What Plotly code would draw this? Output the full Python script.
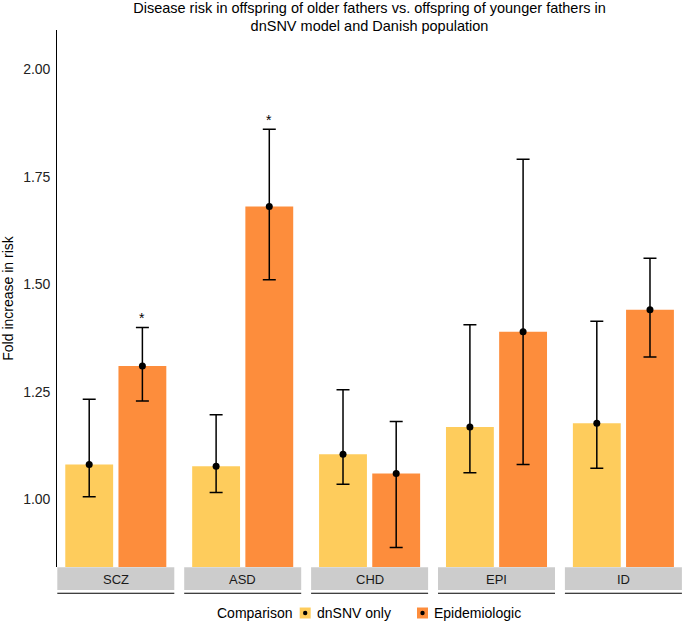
import plotly.graph_objects as go

# ---------------- data ----------------
diseases = ["SCZ", "ASD", "CHD", "EPI", "ID"]
comparisons = ["dnSNV only", "Epidemiologic"]

dnsnv_value = [1.081, 1.077, 1.105, 1.168, 1.177]
dnsnv_lower = [1.006, 1.016, 1.035, 1.062, 1.072]
dnsnv_upper = [1.233, 1.197, 1.255, 1.406, 1.414]

epi_value = [1.310, 1.681, 1.060, 1.390, 1.441]
epi_lower = [1.229, 1.511, 0.888, 1.081, 1.331]
epi_upper = [1.400, 1.861, 1.181, 1.791, 1.561]

epi_signif = ["*", "*", "", "", ""]

y_ticks = [1.00, 1.25, 1.50, 1.75, 2.00]

title_text = ("Disease risk in offspring of older fathers vs. offspring of younger fathers in"
              "<br>dnSNV model and Danish population")
y_title = "Fold increase in risk"
legend_title = "Comparison"

# ---------------- style ----------------
colors = {"dnSNV only": "#FECC5C", "Epidemiologic": "#FD8D3C"}
FONT = "Liberation Sans, Arial, Helvetica, sans-serif"
W, H = 682, 632
ML, MR, MT, MB = 57, 0, 30, 65
PW, PH = W - ML - MR, H - MT - MB


def px_x(px):
    return (px - ML) / PW


def px_y(py):
    return (H - MB - py) / PH


# y calibration (value 1.00 at pixel 499.3, 429.8 px per unit)
y_top = 1 + (499.3 - MT) / 429.8
y_bot = 1 - ((H - MB) - 499.3) / 429.8

panel_w = 117.0
panel_step = 126.9

fig = go.Figure()
shapes = []
annotations = []

for i, d in enumerate(diseases):
    ax = "x" if i == 0 else f"x{i+1}"
    vals = [dnsnv_value[i], epi_value[i]]
    lows = [dnsnv_lower[i], epi_lower[i]]
    ups = [dnsnv_upper[i], epi_upper[i]]
    for j, c in enumerate(comparisons):
        fig.add_trace(go.Bar(
            x=[c], y=[vals[j]], xaxis=ax, yaxis="y", width=0.9,
            marker=dict(color=colors[c], line=dict(width=0)),
            name=c, legendgroup=c, showlegend=False,
        ))
    fig.add_trace(go.Scatter(
        x=comparisons, y=vals, xaxis=ax, yaxis="y", mode="markers",
        marker=dict(color="black", size=7),
        error_y=dict(type="data", symmetric=False,
                     array=[u - v for u, v in zip(ups, vals)],
                     arrayminus=[v - l for v, l in zip(vals, lows)],
                     color="black", thickness=1.5, width=6.5),
        showlegend=False, hoverinfo="skip",
    ))
    if epi_signif[i]:
        annotations.append(dict(
            x=comparisons[1], y=epi_upper[i], xref=ax, yref="y",
            text=epi_signif[i], showarrow=False, yanchor="bottom",
            font=dict(family=FONT, size=14, color="black"), yshift=-1,
        ))

    x0 = (i * panel_step + 0.3) / PW
    x1 = (i * panel_step + 0.3 + panel_w) / PW
    key = "xaxis" if i == 0 else f"xaxis{i+1}"
    fig.layout[key] = dict(
        domain=[x0, min(x1, 1.0)], type="category", categoryorder="array",
        categoryarray=comparisons, range=[-0.6, 1.6], visible=False,
        anchor="y", fixedrange=True,
    )
    # facet strip
    dom = ("x" if i == 0 else f"x{i+1}") + " domain"
    shapes.append(dict(type="rect", xref=dom, yref="paper", x0=0, x1=1,
                       y0=px_y(590), y1=px_y(567.3), fillcolor="#CCCCCC",
                       line=dict(width=0), layer="below"))
    shapes.append(dict(type="line", xref=dom, yref="paper", x0=0, x1=1,
                       y0=px_y(593.3), y1=px_y(593.3),
                       line=dict(color="black", width=1.1)))
    annotations.append(dict(x=0.5, y=px_y(579), xref=dom, yref="paper",
                            text=d, showarrow=False, xanchor="center",
                            yanchor="middle",
                            font=dict(family=FONT, size=13, color="#1A1A1A")))

# manual legend
ly = 613
annotations.append(dict(x=px_x(216), y=px_y(ly), xref="paper", yref="paper",
                        text=legend_title, showarrow=False, xanchor="left",
                        yanchor="middle", borderpad=0,
                        font=dict(family=FONT, size=14, color="black")))
key_specs = [(299.7, 315.5, comparisons[0]), (417.0, 432.8, comparisons[1])]
for kx, tx, c in key_specs:
    shapes.append(dict(type="rect", xref="paper", yref="paper",
                       x0=px_x(kx), x1=px_x(kx + 11), y0=px_y(ly + 5.5),
                       y1=px_y(ly - 5.5), fillcolor=colors[c], line=dict(width=0)))
    cx = kx + 5.5
    shapes.append(dict(type="circle", xref="paper", yref="paper",
                       x0=px_x(cx - 2.2), x1=px_x(cx + 2.2), y0=px_y(ly + 2.2),
                       y1=px_y(ly - 2.2), fillcolor="black", line=dict(width=0)))
    annotations.append(dict(x=px_x(tx), y=px_y(ly), xref="paper", yref="paper",
                            text=c, showarrow=False, xanchor="left",
                            yanchor="middle", borderpad=0,
                            font=dict(family=FONT, size=14, color="black")))

fig.update_layout(
    width=W, height=H,
    margin=dict(l=ML, r=MR, t=MT, b=MB, autoexpand=False),
    paper_bgcolor="white", plot_bgcolor="white",
    barmode="overlay", showlegend=False,
    font=dict(family=FONT, color="black"),
    title=dict(text=title_text, x=px_x(369.5), xref="paper", xanchor="center",
               y=1 - 12.5 / H, yref="container", yanchor="top", pad=dict(t=0, b=0),
               font=dict(family=FONT, size=14.5, color="black")),
    yaxis=dict(range=[y_bot, y_top], tickvals=y_ticks, tickformat=".2f",
               showgrid=False, zeroline=False, showline=True,
               linecolor="black", linewidth=1.1, ticks="", ticklabelstandoff=3,
               tickfont=dict(family=FONT, size=14, color="#222222"),
               title=dict(text=y_title, standoff=12,
                          font=dict(family=FONT, size=14, color="black")),
               automargin=False, anchor="x", fixedrange=True),
    shapes=shapes, annotations=annotations,
)

fig.write_html(
    "out.html",
    config={"displayModeBar": False, "staticPlot": True},
    post_script="document.body.style.margin='0px';document.body.style.overflow='hidden';",
)
